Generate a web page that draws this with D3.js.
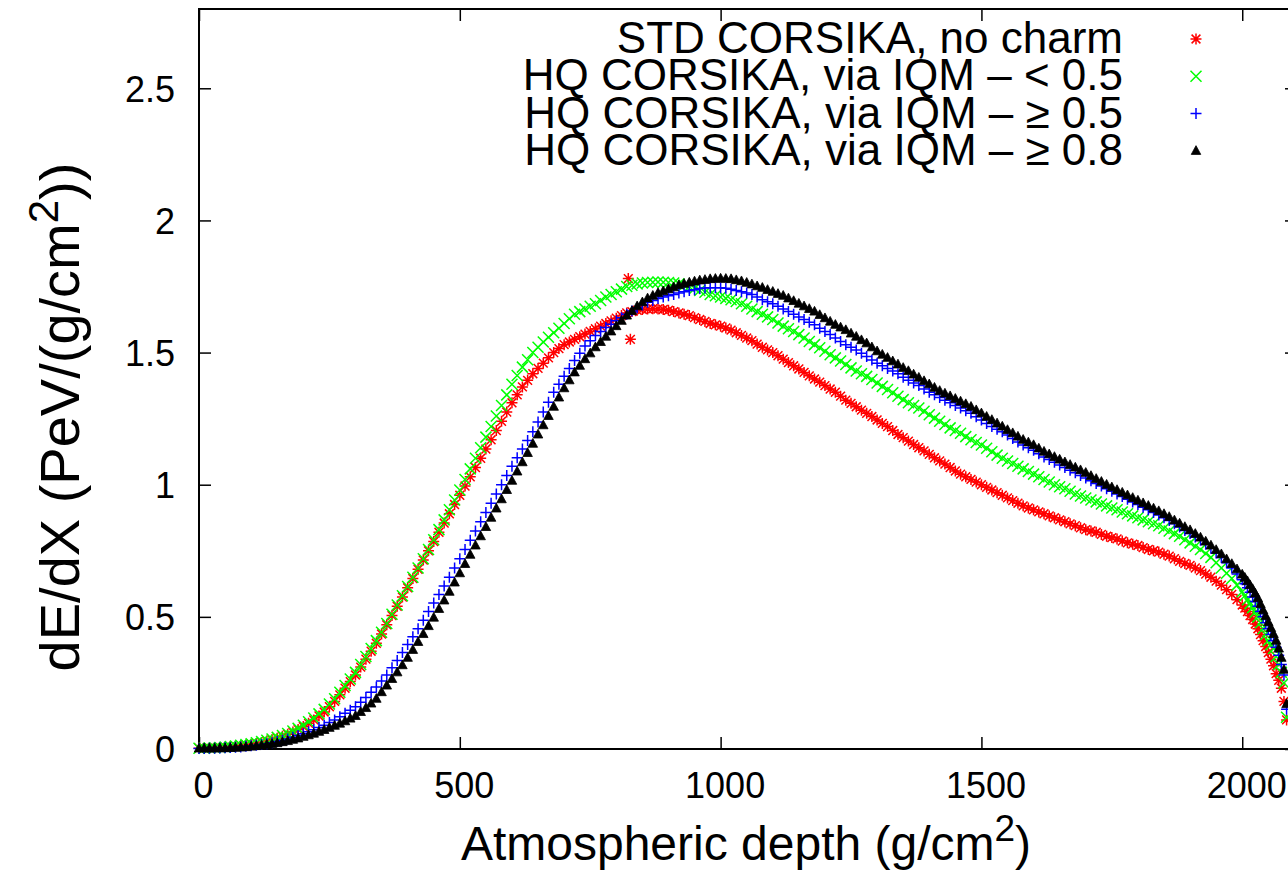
<!DOCTYPE html>
<html>
<head>
<meta charset="utf-8">
<script src="https://cdn.jsdelivr.net/npm/d3@7"></script>
<style>
  body { margin: 0; background: #fff; }
  svg { display: block; font-family: "Liberation Sans", Arial, sans-serif; }
</style>
</head>
<body>
<script>
//Data///////////////////////////////////////////////////////////////////////////////////////////

// atmospheric depth (g/cm^2) shared by all four series
const depth = [
    0, 10, 20, 30, 40, 50, 60, 70, 80, 90,
    100, 110, 120, 130, 140, 150, 160, 170, 180, 190,
    200, 210, 220, 230, 240, 250, 260, 270, 280, 290,
    300, 310, 320, 330, 340, 350, 360, 370, 380, 390,
    400, 410, 420, 430, 440, 450, 460, 470, 480, 490,
    500, 510, 520, 530, 540, 550, 560, 570, 580, 590,
    600, 610, 620, 630, 640, 650, 660, 670, 680, 690,
    700, 710, 720, 730, 740, 750, 760, 770, 780, 790,
    800, 810, 820, 830, 840, 850, 860, 870, 880, 890,
    900, 910, 920, 930, 940, 950, 960, 970, 980, 990,
    1000, 1010, 1020, 1030, 1040, 1050, 1060, 1070, 1080, 1090,
    1100, 1110, 1120, 1130, 1140, 1150, 1160, 1170, 1180, 1190,
    1200, 1210, 1220, 1230, 1240, 1250, 1260, 1270, 1280, 1290,
    1300, 1310, 1320, 1330, 1340, 1350, 1360, 1370, 1380, 1390,
    1400, 1410, 1420, 1430, 1440, 1450, 1460, 1470, 1480, 1490,
    1500, 1510, 1520, 1530, 1540, 1550, 1560, 1570, 1580, 1590,
    1600, 1610, 1620, 1630, 1640, 1650, 1660, 1670, 1680, 1690,
    1700, 1710, 1720, 1730, 1740, 1750, 1760, 1770, 1780, 1790,
    1800, 1810, 1820, 1830, 1840, 1850, 1860, 1870, 1880, 1890,
    1900, 1910, 1920, 1930, 1940, 1950, 1960, 1970, 1980, 1990,
    2000, 2005, 2010, 2015, 2020, 2025, 2030, 2035, 2040, 2045, 2050, 2055, 2060, 2065, 2070, 2075, 2080, 2085
];

// dE/dX (PeV/(g/cm^2))
const stdNoCharm = [
    0.003, 0.003, 0.004, 0.005, 0.006, 0.007, 0.009, 0.011, 0.013, 0.015,
    0.018, 0.021, 0.025, 0.03, 0.035, 0.041, 0.048, 0.056, 0.064, 0.074,
    0.085, 0.097, 0.11, 0.125, 0.14, 0.16, 0.18, 0.205, 0.23, 0.255,
    0.28, 0.31, 0.34, 0.37, 0.40, 0.435, 0.47, 0.505, 0.54, 0.575,
    0.61, 0.645, 0.68, 0.715, 0.75, 0.785, 0.82, 0.855, 0.89, 0.925,
    0.96, 0.995, 1.03, 1.065, 1.10, 1.135, 1.17, 1.205, 1.24, 1.275,
    1.31, 1.34, 1.37, 1.395, 1.42, 1.44, 1.46, 1.48, 1.50, 1.515,
    1.53, 1.54, 1.55, 1.56, 1.57, 1.58, 1.59, 1.60, 1.61, 1.62,
    1.63, 1.64, 1.65, 1.655, 1.66, 1.663, 1.665, 1.666, 1.665, 1.663,
    1.66, 1.655, 1.65, 1.645, 1.64, 1.632, 1.625, 1.618, 1.61, 1.605,
    1.60, 1.593, 1.585, 1.575, 1.565, 1.555, 1.545, 1.532, 1.52, 1.51,
    1.50, 1.488, 1.475, 1.462, 1.45, 1.438, 1.425, 1.412, 1.40, 1.388,
    1.375, 1.362, 1.35, 1.335, 1.32, 1.308, 1.295, 1.282, 1.27, 1.258,
    1.245, 1.232, 1.22, 1.205, 1.19, 1.178, 1.165, 1.152, 1.14, 1.128,
    1.115, 1.102, 1.09, 1.078, 1.065, 1.052, 1.04, 1.03, 1.02, 1.01,
    1.00, 0.99, 0.98, 0.97, 0.96, 0.95, 0.94, 0.93, 0.92, 0.912,
    0.905, 0.897, 0.89, 0.882, 0.875, 0.867, 0.86, 0.852, 0.845, 0.837,
    0.83, 0.825, 0.82, 0.812, 0.805, 0.80, 0.795, 0.787, 0.78, 0.775,
    0.77, 0.762, 0.755, 0.75, 0.745, 0.737, 0.73, 0.72, 0.71, 0.702,
    0.695, 0.685, 0.675, 0.662, 0.65, 0.635, 0.62, 0.603, 0.585, 0.565,
    0.545, 0.533, 0.52, 0.505, 0.49, 0.473, 0.455, 0.433, 0.41, 0.388, 0.365, 0.34, 0.315, 0.285, 0.26, 0.23, 0.18, 0.11
];

// two stray points of the red series near the maximum
const stdOutlierDepth = [823, 827];
const stdOutlierValue = [1.78, 1.55];

const hqBelow05 = [
    0.003, 0.003, 0.004, 0.005, 0.006, 0.007, 0.009, 0.011, 0.014, 0.017,
    0.02, 0.024, 0.028, 0.033, 0.038, 0.044, 0.051, 0.059, 0.068, 0.078,
    0.09, 0.103, 0.117, 0.133, 0.15, 0.17, 0.19, 0.215, 0.24, 0.265,
    0.29, 0.32, 0.35, 0.38, 0.41, 0.442, 0.475, 0.51, 0.545, 0.58,
    0.615, 0.65, 0.685, 0.72, 0.755, 0.792, 0.83, 0.867, 0.905, 0.942,
    0.98, 1.02, 1.06, 1.10, 1.14, 1.18, 1.22, 1.26, 1.30, 1.34,
    1.38, 1.413, 1.445, 1.473, 1.50, 1.52, 1.54, 1.558, 1.575, 1.592,
    1.61, 1.628, 1.645, 1.655, 1.665, 1.675, 1.685, 1.697, 1.71, 1.72,
    1.73, 1.74, 1.75, 1.755, 1.76, 1.763, 1.765, 1.766, 1.767, 1.766,
    1.765, 1.763, 1.76, 1.755, 1.75, 1.743, 1.735, 1.728, 1.72, 1.715,
    1.71, 1.705, 1.70, 1.693, 1.685, 1.675, 1.665, 1.655, 1.645, 1.635,
    1.625, 1.612, 1.60, 1.59, 1.58, 1.568, 1.555, 1.542, 1.53, 1.518,
    1.505, 1.492, 1.48, 1.468, 1.455, 1.442, 1.43, 1.42, 1.41, 1.398,
    1.385, 1.372, 1.36, 1.348, 1.335, 1.322, 1.31, 1.30, 1.29, 1.278,
    1.265, 1.252, 1.24, 1.228, 1.215, 1.205, 1.195, 1.182, 1.17, 1.16,
    1.15, 1.138, 1.125, 1.112, 1.10, 1.09, 1.08, 1.07, 1.06, 1.05,
    1.04, 1.03, 1.02, 1.01, 1.00, 0.992, 0.985, 0.975, 0.965, 0.957,
    0.95, 0.942, 0.935, 0.927, 0.92, 0.912, 0.905, 0.897, 0.89, 0.882,
    0.875, 0.867, 0.86, 0.852, 0.845, 0.835, 0.825, 0.815, 0.805, 0.792,
    0.78, 0.767, 0.755, 0.74, 0.725, 0.705, 0.685, 0.665, 0.645, 0.62,
    0.595, 0.58, 0.565, 0.55, 0.535, 0.518, 0.50, 0.478, 0.455, 0.433, 0.41, 0.395, 0.38, 0.35, 0.32, 0.29, 0.25, 0.12
];

const hqAbove05 = [
    0.002, 0.002, 0.003, 0.003, 0.004, 0.005, 0.006, 0.007, 0.008, 0.01,
    0.012, 0.014, 0.017, 0.02, 0.024, 0.028, 0.033, 0.038, 0.044, 0.051,
    0.058, 0.065, 0.073, 0.081, 0.09, 0.10, 0.11, 0.122, 0.135, 0.147,
    0.16, 0.177, 0.195, 0.215, 0.235, 0.257, 0.28, 0.307, 0.335, 0.365,
    0.395, 0.425, 0.455, 0.487, 0.52, 0.552, 0.585, 0.617, 0.65, 0.685,
    0.72, 0.755, 0.79, 0.825, 0.86, 0.895, 0.93, 0.965, 1.0, 1.035,
    1.07, 1.102, 1.135, 1.167, 1.20, 1.237, 1.275, 1.312, 1.35, 1.38,
    1.41, 1.44, 1.47, 1.497, 1.525, 1.545, 1.565, 1.58, 1.595, 1.607,
    1.62, 1.632, 1.645, 1.657, 1.67, 1.68, 1.69, 1.697, 1.705, 1.71,
    1.715, 1.72, 1.725, 1.73, 1.735, 1.738, 1.742, 1.744, 1.745, 1.745,
    1.745, 1.743, 1.74, 1.735, 1.73, 1.725, 1.72, 1.71, 1.70, 1.692,
    1.685, 1.675, 1.665, 1.655, 1.645, 1.635, 1.625, 1.615, 1.605, 1.592,
    1.58, 1.568, 1.555, 1.542, 1.53, 1.52, 1.51, 1.497, 1.485, 1.472,
    1.46, 1.45, 1.44, 1.43, 1.42, 1.407, 1.395, 1.385, 1.375, 1.362,
    1.35, 1.34, 1.33, 1.32, 1.31, 1.30, 1.29, 1.28, 1.27, 1.257,
    1.245, 1.232, 1.22, 1.21, 1.20, 1.188, 1.175, 1.162, 1.15, 1.14,
    1.13, 1.117, 1.105, 1.095, 1.085, 1.075, 1.065, 1.055, 1.045, 1.035,
    1.025, 1.015, 1.005, 0.995, 0.985, 0.975, 0.965, 0.955, 0.945, 0.935,
    0.925, 0.915, 0.905, 0.895, 0.885, 0.875, 0.865, 0.852, 0.84, 0.827,
    0.815, 0.802, 0.79, 0.775, 0.76, 0.742, 0.725, 0.705, 0.685, 0.662,
    0.64, 0.625, 0.61, 0.593, 0.575, 0.558, 0.54, 0.52, 0.50, 0.478, 0.455, 0.433, 0.41, 0.385, 0.355, 0.32, 0.28, 0.15
];

const hqAbove08 = [
    0.002, 0.002, 0.002, 0.002, 0.003, 0.003, 0.004, 0.005, 0.006, 0.007,
    0.009, 0.011, 0.013, 0.016, 0.019, 0.022, 0.026, 0.03, 0.035, 0.04,
    0.046, 0.052, 0.058, 0.065, 0.072, 0.08, 0.088, 0.096, 0.105, 0.115,
    0.125, 0.14, 0.155, 0.172, 0.19, 0.215, 0.24, 0.265, 0.29, 0.317,
    0.345, 0.375, 0.405, 0.435, 0.465, 0.497, 0.53, 0.562, 0.595, 0.63,
    0.665, 0.70, 0.735, 0.77, 0.805, 0.84, 0.875, 0.91, 0.945, 0.98,
    1.015, 1.05, 1.085, 1.12, 1.155, 1.19, 1.225, 1.26, 1.295, 1.33,
    1.365, 1.395, 1.425, 1.45, 1.475, 1.497, 1.52, 1.54, 1.56, 1.58,
    1.60, 1.62, 1.64, 1.657, 1.675, 1.69, 1.705, 1.715, 1.725, 1.732,
    1.74, 1.747, 1.755, 1.76, 1.765, 1.769, 1.773, 1.775, 1.778, 1.779,
    1.78, 1.779, 1.778, 1.774, 1.77, 1.764, 1.758, 1.751, 1.745, 1.737,
    1.73, 1.722, 1.715, 1.705, 1.695, 1.685, 1.675, 1.665, 1.655, 1.642,
    1.63, 1.617, 1.605, 1.595, 1.585, 1.572, 1.56, 1.547, 1.535, 1.52,
    1.505, 1.492, 1.48, 1.467, 1.455, 1.442, 1.43, 1.417, 1.405, 1.392,
    1.38, 1.367, 1.355, 1.345, 1.335, 1.325, 1.315, 1.305, 1.295, 1.282,
    1.27, 1.257, 1.245, 1.232, 1.22, 1.207, 1.195, 1.182, 1.17, 1.16,
    1.15, 1.137, 1.125, 1.115, 1.105, 1.095, 1.085, 1.075, 1.065, 1.055,
    1.045, 1.033, 1.022, 1.011, 1.0, 0.99, 0.98, 0.97, 0.96, 0.95,
    0.94, 0.93, 0.92, 0.91, 0.90, 0.889, 0.878, 0.865, 0.853, 0.84,
    0.828, 0.814, 0.80, 0.785, 0.77, 0.753, 0.737, 0.718, 0.70, 0.68,
    0.66, 0.648, 0.635, 0.62, 0.605, 0.588, 0.57, 0.548, 0.525, 0.503, 0.48, 0.458, 0.435, 0.41, 0.38, 0.345, 0.30, 0.17
];

const seriesNames = [
    "STD CORSIKA, no charm",
    "HQ CORSIKA, via IQM \u2013 < 0.5",
    "HQ CORSIKA, via IQM \u2013 \u2265 0.5",
    "HQ CORSIKA, via IQM \u2013 \u2265 0.8"
];
const seriesColors = ["#ff0000", "#00ff00", "#0000ff", "#000000"];
const seriesSymbols = ["star", "cross", "plus", "triangle"];

const xTicks = [0, 500, 1000, 1500, 2000];
const yTicks = [0, 0.5, 1, 1.5, 2, 2.5];

// build point lists
var seriesValues = [stdNoCharm, hqBelow05, hqAbove05, hqAbove08];
var series = seriesValues.map(function(vals, i) {
    var pts = depth.map(function(d, j) { return { x: d, y: vals[j] }; });
    if (i == 0) {
        stdOutlierDepth.forEach(function(d, k) { pts.push({ x: d, y: stdOutlierValue[k] }); });
    }
    return { name: seriesNames[i], color: seriesColors[i], symbol: seriesSymbols[i], points: pts };
});

//Layout/////////////////////////////////////////////////////////////////////////////////////////

var W = 1288, H = 872;
var margin = {top: 9, left: 199, right: -9, bottom: 123};
var width = W - margin.left - margin.right,   // right frame sits just outside the picture
    height = H - margin.top - margin.bottom;

var x = d3.scaleLinear().domain([0, 2105]).range([0, width]);
var y = d3.scaleLinear().domain([0, 2.8]).range([height, 0]);

var svg = d3.select("body").append("svg")
    .attr("width", W)
    .attr("height", H);

svg.append("rect").attr("width", W).attr("height", H).attr("fill", "#fff");

var g = svg.append("g")
    .attr("transform", "translate(" + margin.left + "," + margin.top + ")");

// point shapes, gnuplot style
function symbolPath(type, s) {
    if (type == "plus") return "M" + (-s) + ",0H" + s + "M0," + (-s) + "V" + s;
    if (type == "cross") return "M" + (-s) + "," + (-s) + "L" + s + "," + s + "M" + (-s) + "," + s + "L" + s + "," + (-s);
    if (type == "star") {
        var t = s * 0.8;
        return "M" + (-s) + ",0H" + s + "M0," + (-s) + "V" + s +
            "M" + (-t) + "," + (-t) + "L" + t + "," + t + "M" + (-t) + "," + t + "L" + t + "," + (-t);
    }
    // filled triangle
    return "M0," + (-s * 1.05) + "L" + (s * 0.95) + "," + (s * 0.7) + "L" + (-s * 0.95) + "," + (s * 0.7) + "Z";
}

function drawSymbol(sel, d) {
    sel.append("path")
        .attr("d", symbolPath(d.symbol, d.symbol == "triangle" ? 5 : 5.5))
        .attr("fill", d.symbol == "triangle" ? d.color : "none")
        .attr("stroke", d.color)
        .attr("stroke-width", d.symbol == "triangle" ? 0.8 : 1.5);
}

//Axes///////////////////////////////////////////////////////////////////////////////////////////

var tickFont = 36;

var xAxis = g.append("g")
    .attr("transform", "translate(0," + height + ")")
    .call(d3.axisBottom(x).tickValues(xTicks).tickSize(-12).tickPadding(23).tickFormat(d3.format("d")));

var yAxis = g.append("g")
    .call(d3.axisLeft(y).tickValues(yTicks).tickSize(-12).tickPadding(24).tickFormat(function(d) { return d; }));

// mirrored ticks on top and right
g.append("g")
    .call(d3.axisTop(x).tickValues(xTicks).tickSize(-12).tickFormat(""));
g.append("g")
    .attr("transform", "translate(" + width + ",0)")
    .call(d3.axisRight(y).tickValues(yTicks).tickSize(-12).tickFormat(""));

g.selectAll(".domain").remove();
g.selectAll(".tick line").attr("stroke", "#000").attr("stroke-width", 1.5);
g.selectAll(".tick text")
    .attr("fill", "#000")
    .style("font-size", tickFont + "px")
    .style("font-family", "Liberation Sans, Arial, sans-serif");
xAxis.selectAll(".tick text").attr("dy", "0.71em").attr("dx", 4);
yAxis.selectAll(".tick text").attr("dy", "0.36em");

// frame
g.append("rect")
    .attr("width", width)
    .attr("height", height)
    .attr("fill", "none")
    .attr("stroke", "#000")
    .attr("stroke-width", 2);

//Points/////////////////////////////////////////////////////////////////////////////////////////

var plot = g.append("g");
series.forEach(function(s) {
    plot.append("g").selectAll("g")
        .data(s.points)
        .enter().append("g")
        .attr("transform", function(d) { return "translate(" + x(d.x) + "," + y(d.y) + ")"; })
        .each(function() { drawSymbol(d3.select(this), s); });
});

//Legend/////////////////////////////////////////////////////////////////////////////////////////

var legend = svg.append("g");
series.forEach(function(s, i) {
    var yy = 53 + i * 37.3;
    legend.append("text")
        .attr("x", 1123)
        .attr("y", yy)
        .attr("text-anchor", "end")
        .style("font-size", "44px")
        .text(s.name);
    legend.append("g")
        .attr("transform", "translate(1196," + (yy - 14) + ")")
        .call(drawSymbol, s);
});

//Axis titles////////////////////////////////////////////////////////////////////////////////////

var xt = svg.append("text")
    .attr("x", 746)
    .attr("y", 860)
    .attr("text-anchor", "middle")
    .style("font-size", "48px")
    .text("Atmospheric depth (g/cm");
xt.append("tspan").attr("dy", -19).style("font-size", "37px").text("2");
xt.append("tspan").attr("dy", 19).text(")");

var yt = svg.append("text")
    .attr("transform", "translate(79,417) rotate(-90)")
    .attr("text-anchor", "middle")
    .style("font-size", "56px")
    .text("dE/dX (PeV/(g/cm");
yt.append("tspan").attr("dy", -21).style("font-size", "42px").text("2");
yt.append("tspan").attr("dy", 21).text("))");
</script>
</body>
</html>
